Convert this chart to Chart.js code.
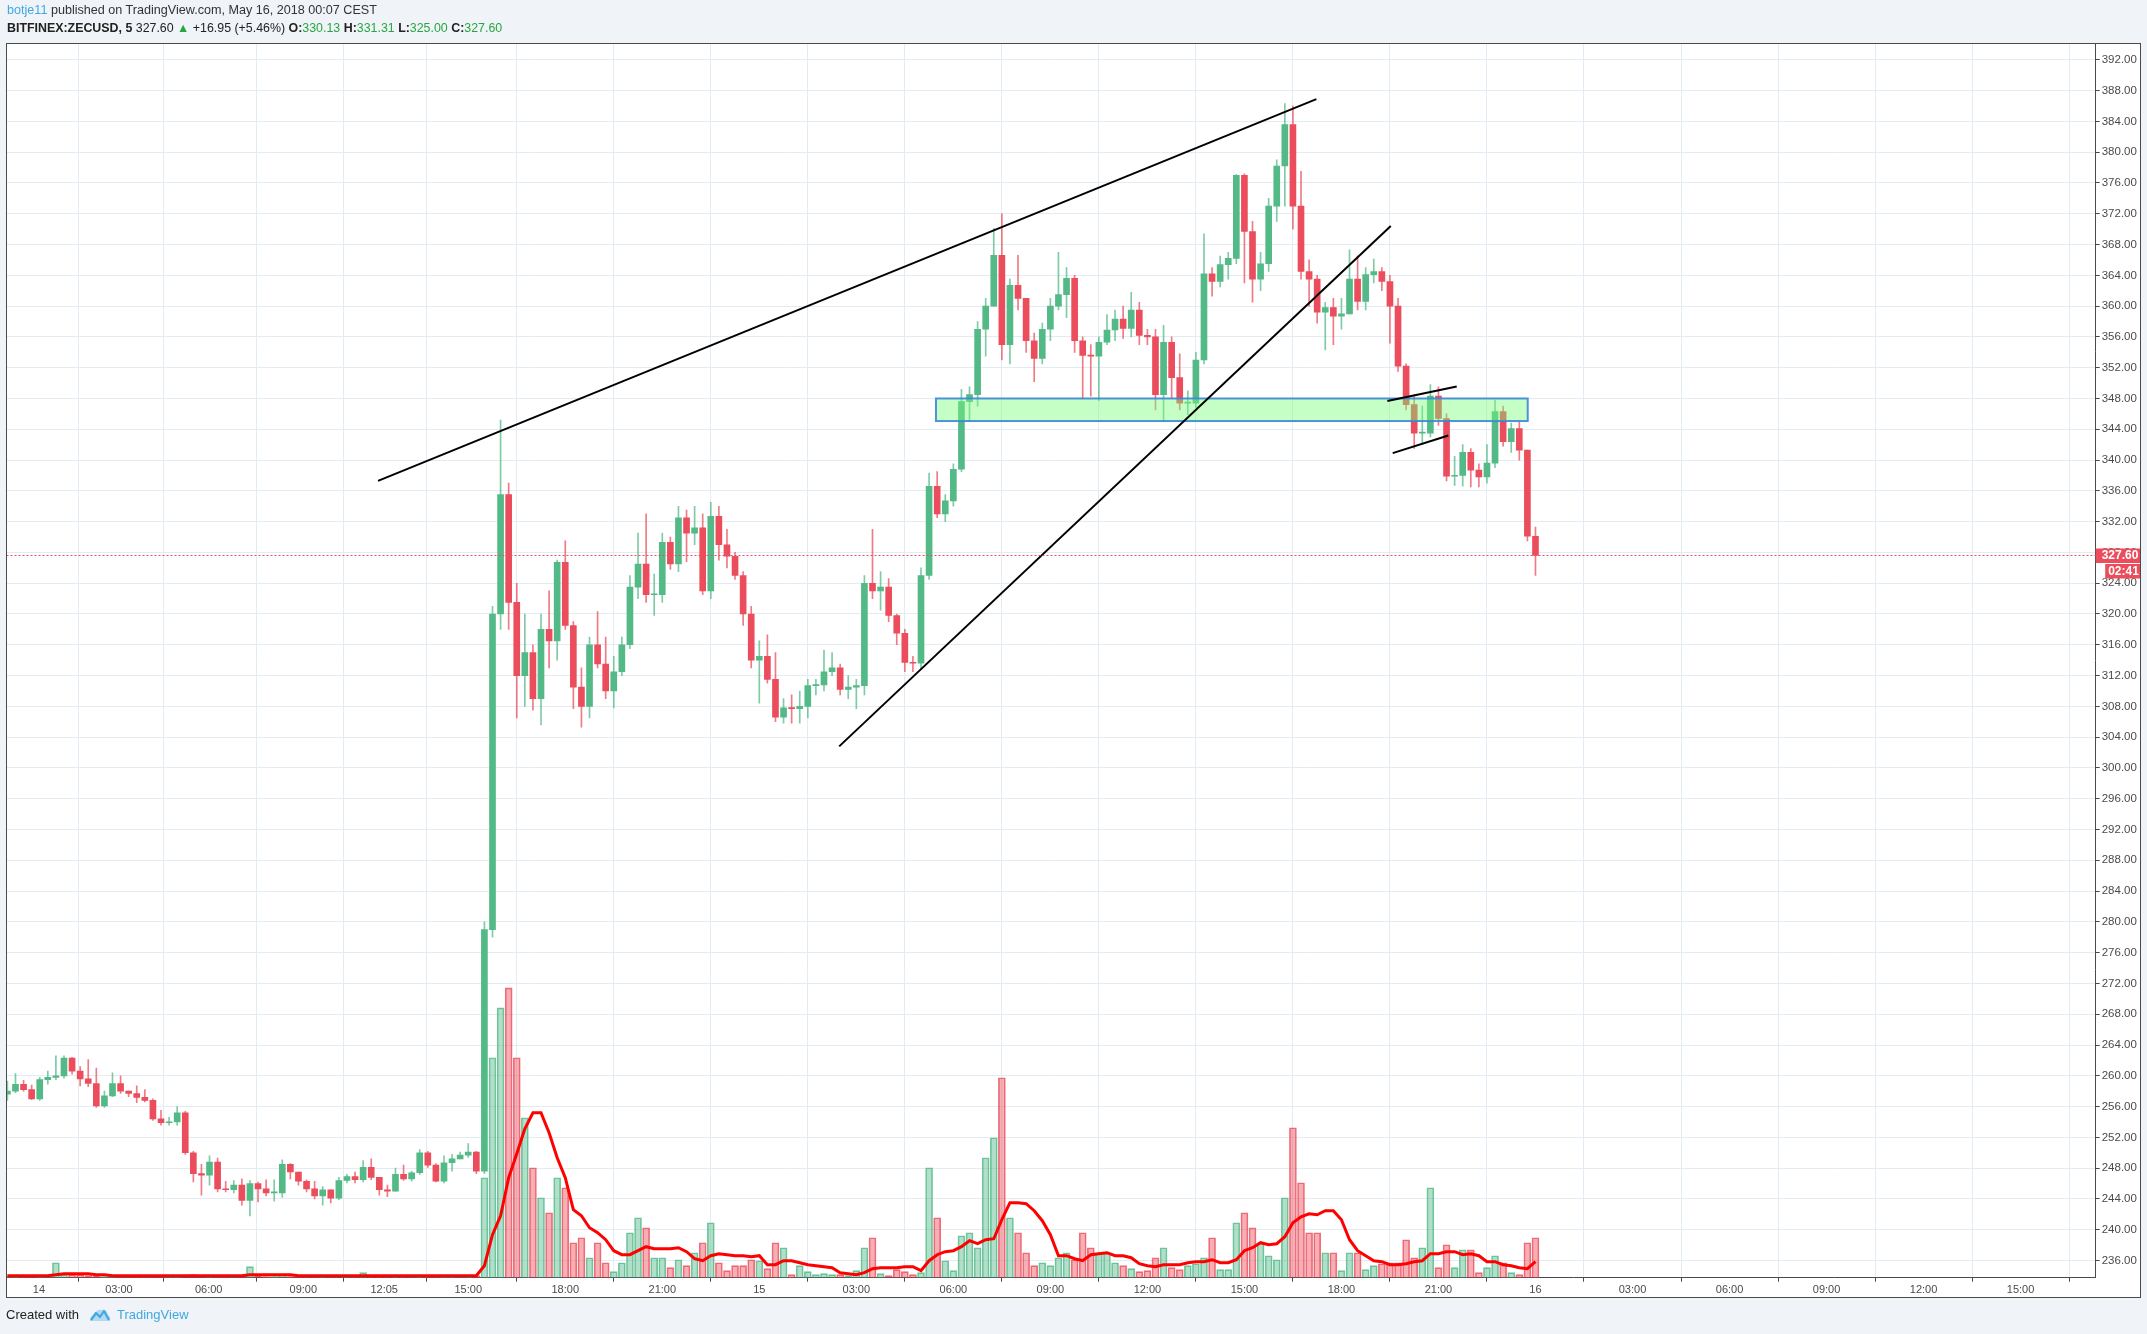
<!DOCTYPE html>
<html>
<head>
<meta charset="utf-8">
<title>BITFINEX:ZECUSD, 5</title>
<script src="https://cdn.jsdelivr.net/npm/chart.js@4.4.0/dist/chart.umd.min.js"></script>
<style>
  html, body { margin: 0; padding: 0; background: #f0f3f7; }
  body { width: 2147px; height: 1334px; position: relative; overflow: hidden; font-family: "Liberation Sans", Arial, sans-serif; }
  #caja { position: absolute; left: 0; top: 0; width: 2147px; height: 1334px; }
  .linea1 { position: absolute; left: 7px; top: 3px; font-size: 12.6px; color: #333; white-space: nowrap; }
  .linea2 { position: absolute; left: 7px; top: 21px; font-size: 12.4px; color: #222; white-space: nowrap; }
  .usuario, .tv { color: #3fa9e0; }
  .verde { color: #26a641; }
  .pie { position: absolute; left: 6px; top: 1307px; font-size: 13px; color: #222; white-space: nowrap; }
  .pie svg { vertical-align: -3px; margin: 0 6px 0 10px; }
</style>
</head>
<body>
<div id="caja"><canvas id="grafica"></canvas></div>
<div class="linea1"><span class="usuario">botje11</span> published on TradingView.com, May 16, 2018 00:07 CEST</div>
<div class="linea2"><b>BITFINEX:ZECUSD, 5</b> 327.60 <span class="verde">&#9650;</span> +16.95 (+5.46%) <b>O:</b><span class="verde">330.13</span> <b>H:</b><span class="verde">331.31</span> <b>L:</b><span class="verde">325.00</span> <b>C:</b><span class="verde">327.60</span></div>
<div class="pie">Created with<svg width="22" height="14" viewBox="0 0 22 14"><path d="M2 12 L7 5 L11 9 L15 3 L20 12" fill="none" stroke="#3fa9e0" stroke-width="2.2" stroke-linejoin="round"/><path d="M1 13 Q1 7 6 7 Q7 1 13 2 Q18 1 19 7 Q22 8 21 13 Z" fill="#3fa9e0" opacity="0.35"/></svg><span class="tv">TradingView</span></div>

<script>
// 15-minute candles, one slot each (slot 93 = May 15 00:00)
const closes = [
  258.0,258.9,258.2,257.0,259.5,259.8,260.0,262.3,260.6,259.6,
  259.0,256.1,257.4,259.0,258.0,257.7,257.2,256.8,254.4,253.9,
  254.0,255.2,250.0,247.3,247.1,248.8,245.3,245.2,245.8,243.8,
  246.0,245.3,244.8,244.8,248.5,247.5,246.3,245.3,244.4,245.2,
  244.1,246.4,246.9,246.5,248.1,246.8,245.2,245.0,247.2,246.6,
  247.4,250.0,248.4,246.3,248.7,249.2,249.7,250.1,247.6,279.0,
  320.0,335.5,321.5,312.0,315.0,309.0,318.0,316.5,326.7,318.5,
  310.5,308.0,316.0,313.5,310.0,312.5,316.0,323.5,326.5,322.5,
  322.5,329.3,326.5,332.5,330.5,331.2,323.0,332.7,329.0,327.5,
  325.0,320.0,314.0,314.5,311.5,306.6,307.8,307.7,308.0,310.7,
  310.8,312.5,313.0,310.2,310.5,310.7,324.0,323.0,323.5,319.8,
  317.5,313.7,313.6,325.0,336.6,333.0,334.7,338.8,347.6,348.5,
  357.0,360.0,366.6,355.0,362.7,361.0,355.5,353.2,357.0,360.0,
  361.5,363.6,355.5,353.6,353.5,355.3,356.9,358.3,357.1,359.5,
  356.2,356.0,348.5,355.3,350.7,347.4,347.4,353.0,364.2,363.2,
  365.4,366.2,377.0,369.7,363.5,365.5,373.0,378.2,383.6,373.0,
  364.5,363.5,359.2,359.8,358.7,359.0,363.5,360.6,364.1,364.5,
  363.2,360.0,352.2,347.2,343.5,343.5,348.3,345.4,337.9,338.0,
  341.0,338.7,337.8,339.6,346.3,342.4,344.1,341.3,330.1,327.6
];
const highs = [
  259.3,260.3,259.4,258.8,259.8,260.6,262.6,262.6,262.4,261.2,
  262.1,261.0,258.0,260.4,260.0,258.0,258.7,258.2,257.0,255.5,
  254.6,256.0,255.4,250.2,248.5,249.6,249.3,246.3,246.4,246.6,
  246.4,246.2,246.5,246.5,249.1,248.6,247.0,246.5,246.3,245.6,
  244.8,246.8,247.2,247.5,249.0,249.2,246.5,245.8,248.0,248.4,
  247.6,250.4,250.2,248.6,249.6,249.8,250.1,251.2,250.2,280.0,
  321.0,345.2,337.0,324.0,320.0,316.0,320.0,323.0,327.0,329.5,
  319.0,313.0,317.0,320.3,317.0,314.5,317.0,325.0,330.5,333.0,
  325.2,330.5,330.0,334.0,333.5,334.0,333.0,334.5,334.0,331.0,
  328.0,325.5,321.0,316.5,317.3,315.0,309.0,309.5,310.0,311.5,
  311.5,315.3,315.0,313.5,312.0,311.5,325.0,331.0,325.5,324.6,
  320.0,318.0,314.5,326.0,338.3,338.5,335.5,339.5,349.2,349.5,
  358.0,361.0,370.1,372.0,363.5,366.6,361.0,356.5,357.8,361.0,
  367.0,365.0,364.0,356.0,355.0,356.0,358.9,359.5,360.0,361.8,
  360.5,357.0,357.0,357.5,356.0,353.8,349.0,354.0,369.4,365.0,
  366.5,367.0,377.1,377.2,371.0,367.0,374.0,379.0,386.3,386.0,
  377.5,366.0,364.0,360.5,361.0,361.0,367.3,366.5,365.0,366.1,
  365.0,364.0,361.0,352.5,348.5,347.0,349.8,349.5,346.0,340.5,
  342.0,341.5,339.5,342.0,347.8,347.0,344.8,345.0,341.0,331.3
];
const lows = [
  256.8,257.8,258.0,256.9,256.8,258.9,259.5,259.7,260.2,258.7,
  258.6,255.9,255.9,257.3,257.7,257.3,256.5,256.6,254.2,253.6,
  253.6,253.6,249.8,246.2,244.5,245.8,244.9,244.9,244.8,243.2,
  241.8,243.6,244.4,243.7,244.2,246.6,245.8,244.9,244.0,243.2,
  243.5,243.9,246.1,246.1,246.2,246.5,244.5,244.3,245.3,246.4,
  246.3,247.2,248.1,246.2,246.1,247.6,249.2,249.4,247.3,247.3,
  278.0,318.0,318.0,306.5,308.0,307.5,305.6,313.0,314.0,318.0,
  307.7,305.3,306.5,313.0,309.0,307.8,312.0,315.5,322.0,321.5,
  319.8,321.5,325.8,325.5,326.8,329.0,322.5,322.0,327.0,326.0,
  324.5,318.5,313.0,308.4,311.0,306.0,305.8,305.8,305.8,306.5,
  309.5,310.0,312.0,309.5,309.0,307.7,309.5,322.0,320.5,319.0,
  316.0,312.5,312.5,312.8,324.5,332.5,332.0,334.0,338.5,345.0,
  347.0,353.5,360.0,353.0,352.5,359.5,354.0,350.2,352.5,355.5,
  359.5,358.5,354.0,348.0,348.3,347.7,355.0,355.5,355.8,356.0,
  355.0,355.0,346.5,345.0,348.0,346.5,345.9,346.8,352.5,361.3,
  362.5,363.5,365.5,363.0,360.5,362.0,364.5,371.0,373.0,370.0,
  363.5,360.0,357.8,354.3,355.0,357.0,361.5,359.5,359.5,363.0,
  362.0,355.2,351.5,346.5,341.5,342.0,343.0,344.5,337.3,336.7,
  336.6,336.5,336.5,337.0,339.0,341.8,341.0,340.0,329.5,325.0
];
const firstOpen = 257.6;

// volume (relative units) and its moving average
const volumes = [
  2,1,1,2,1,2,15,3,3,3,
  2,2,1,1,1,2,1,1,2,1,
  1,1,2,3,2,1,1,1,2,2,
  11,2,1,1,3,1,1,1,1,1,
  1,2,1,1,5,1,1,1,1,1,
  2,1,1,1,1,1,2,1,2,100,
  220,270,290,220,160,110,80,65,100,90,
  35,40,20,35,15,6,15,45,60,50,
  20,20,10,18,12,25,35,55,15,7,
  12,12,18,17,9,35,30,3,12,6,
  3,4,3,3,2,7,30,40,4,2,
  8,6,3,5,110,60,17,7,42,45,
  30,120,140,200,60,45,25,12,15,12,
  20,25,18,45,30,25,25,15,12,9,
  6,7,20,30,10,8,12,14,20,40,
  8,8,55,65,50,35,22,18,80,150,
  95,45,45,25,25,7,25,25,8,12,
  14,15,15,38,20,30,90,10,33,10,
  28,28,5,10,22,15,5,3,35,40
];
const volumeMA = [
  2,2,2,2,2,2,3,4,4,4,
  4,3,3,2,2,2,2,2,2,2,
  2,2,2,2,2,2,2,2,2,2,
  3,3,3,3,3,3,2,2,2,2,
  2,2,2,2,2,2,2,2,2,2,
  2,2,2,2,2,2,2,2,2,12,
  43,62,100,124,149,165,165,145,120,100,
  68,62,50,45,38,27,23,23,27,31,
  29,29,29,30,26,19,17,22,24,23,
  22,22,21,22,13,13,17,17,15,13,
  12,11,10,5,4,3,5,9,10,10,
  10,11,11,7,17,23,26,27,31,37,
  34,38,39,58,75,75,74,67,57,43,
  22,22,19,17,23,24,25,22,22,20,
  14,12,11,13,13,13,15,16,16,18,
  15,15,18,27,30,35,33,34,41,55,
  61,64,63,67,67,58,38,27,22,17,
  16,13,13,14,16,17,24,24,26,26,
  23,24,22,16,16,13,12,10,9,16
];

// time axis: slot position and label
const tickSlots = [3.9,13.8,24.9,36.6,46.6,57,69,81,93,105,117,129,141,153,165,177,189,201,213,225,237,249];
const tickLabels = ['14','03:00','06:00','09:00','12:05','15:00','18:00','21:00','15','03:00','06:00','09:00','12:00','15:00','18:00','21:00','16','03:00','06:00','09:00','12:00','15:00'];
const priceTicks = [236,240,244,248,252,256,260,264,268,272,276,280,284,288,292,296,300,304,308,312,316,320,324,328,332,336,340,344,348,352,356,360,364,368,372,376,380,384,388,392];

const lastPrice = 327.60;
const countdown = '02:41';

// drawings (slot, price)
const trendUpper = [{x: 45.84, y: 337.3}, {x: 161.9, y: 386.9}];
const trendLower = [{x: 102.88, y: 302.8}, {x: 171.1, y: 370.4}];
const flagUpper = [{x: 170.68, y: 347.66}, {x: 179.26, y: 349.57}];
const flagLower = [{x: 171.34, y: 340.9}, {x: 178.22, y: 343.2}];
const zoneSlots = [114.85, 188.04];
const zonePrices = [345.07, 348.0];

const verde = 'rgba(83, 185, 135, 1)';
const rojo = 'rgba(235, 77, 92, 1)';

function inicio() {
  const opens = closes.map((c, i) => i === 0 ? firstOpen : closes[i - 1]);
  const sube = closes.map((c, i) => c >= opens[i]);

  const cuerpos = closes.map((c, i) => ({x: i, y: [opens[i], c]}));
  const mechas = closes.map((c, i) => ({
    x: i,
    y: [Math.min(lows[i], opens[i], c), Math.max(highs[i], opens[i], c)]
  }));
  const vol = volumes.map((v, i) => ({x: i, y: v}));
  const media = volumeMA.map((v, i) => ({x: i, y: v}));

  const colCuerpo = sube.map(s => s ? verde : rojo);
  const colMecha = sube.map(s => s ? 'rgba(83,185,135,0.75)' : 'rgba(235,77,92,0.75)');
  const colVol = sube.map(s => s ? 'rgba(83,185,135,0.45)' : 'rgba(235,77,92,0.45)');
  const bordeVol = sube.map(s => s ? 'rgba(83,185,135,0.8)' : 'rgba(235,77,92,0.8)');

  const panel = {
    id: 'panel',
    beforeDraw(chart) {
      const a = chart.chartArea, ctx = chart.ctx;
      ctx.save();
      ctx.fillStyle = '#ffffff';
      ctx.fillRect(a.left, a.top, chart.width - 7 - a.left, a.bottom + 19.8 - a.top);
      ctx.restore();
    },
    afterDatasetDraw(chart, args) {
      // zone drawn right after the candle bodies, under the trend lines
      if (chart.data.datasets[args.index].label !== 'Bodies') return;
      const x = chart.scales.x, y = chart.scales.y, ctx = chart.ctx;
      const x0 = x.getPixelForValue(zoneSlots[0]), x1 = x.getPixelForValue(zoneSlots[1]);
      const y0 = y.getPixelForValue(zonePrices[1]), y1 = y.getPixelForValue(zonePrices[0]);
      ctx.save();
      ctx.fillStyle = 'rgba(120, 255, 120, 0.42)';
      ctx.fillRect(x0, y0, x1 - x0, y1 - y0);
      ctx.strokeStyle = 'rgba(60, 135, 215, 0.9)';
      ctx.lineWidth = 2;
      ctx.strokeRect(x0, y0, x1 - x0, y1 - y0);
      ctx.restore();
    },
    afterDraw(chart) {
      const a = chart.chartArea, ctx = chart.ctx, y = chart.scales.y;
      const py = y.getPixelForValue(lastPrice);
      ctx.save();
      // last price dotted line
      ctx.strokeStyle = rojo;
      ctx.lineWidth = 1;
      ctx.setLineDash([2, 2]);
      ctx.beginPath();
      ctx.moveTo(a.left, Math.round(py) + 0.5);
      ctx.lineTo(a.right, Math.round(py) + 0.5);
      ctx.stroke();
      ctx.setLineDash([]);
      // outer frame
      ctx.strokeStyle = '#4a4a4a';
      ctx.strokeRect(Math.floor(a.left) + 0.5, Math.floor(a.top) + 0.5, chart.width - 7 - Math.floor(a.left), Math.round(a.bottom + 19.8 - a.top));
      // price label and countdown
      ctx.fillStyle = rojo;
      ctx.fillRect(a.right, py - 7, chart.width - 7 - a.right, 14.5);
      ctx.fillRect(a.right + 9.5, py + 8.5, chart.width - 7 - a.right - 9.5, 14.5);
      ctx.fillStyle = '#ffffff';
      ctx.font = 'bold 12px "Liberation Sans", Arial, sans-serif';
      ctx.textAlign = 'left';
      ctx.textBaseline = 'middle';
      ctx.fillText(lastPrice.toFixed(2), a.right + 6, py + 0.5);
      ctx.fillText(countdown, a.right + 12.5, py + 16);
      ctx.restore();
    }
  };

  const ctx = document.getElementById('grafica').getContext('2d');

  const data = {
    datasets: [{
      label: 'Bodies',
      type: 'bar',
      data: cuerpos,
      backgroundColor: colCuerpo,
      barThickness: 6,
      minBarLength: 1,
      grouped: false,
      yAxisID: 'y',
      order: 1
    }, {
      label: 'Wicks',
      type: 'bar',
      data: mechas,
      backgroundColor: colMecha,
      barThickness: 1,
      grouped: false,
      yAxisID: 'y',
      order: 2
    }, {
      label: 'Volume MA',
      type: 'line',
      data: media,
      borderColor: '#ff0000',
      borderWidth: 3,
      pointRadius: 0,
      tension: 0,
      yAxisID: 'yv',
      order: 3
    }, {
      label: 'Volume',
      type: 'bar',
      data: vol,
      backgroundColor: colVol,
      borderColor: bordeVol,
      borderWidth: 1,
      barThickness: 7,
      grouped: false,
      yAxisID: 'yv',
      order: 4
    }, {
      label: 'Trend upper',
      type: 'line',
      data: trendUpper,
      borderColor: '#000000',
      borderWidth: 2,
      pointRadius: 0,
      yAxisID: 'y',
      order: 0
    }, {
      label: 'Trend lower',
      type: 'line',
      data: trendLower,
      borderColor: '#000000',
      borderWidth: 2,
      pointRadius: 0,
      yAxisID: 'y',
      order: 0
    }, {
      label: 'Flag upper',
      type: 'line',
      data: flagUpper,
      borderColor: '#000000',
      borderWidth: 2,
      pointRadius: 0,
      yAxisID: 'y',
      order: 0
    }, {
      label: 'Flag lower',
      type: 'line',
      data: flagLower,
      borderColor: '#000000',
      borderWidth: 2,
      pointRadius: 0,
      yAxisID: 'y',
      order: 0
    }]
  };

  const fuente = {family: '"Liberation Sans", Arial, sans-serif', size: 11};

  const config = {
    type: 'bar',
    data: data,
    options: {
      responsive: true,
      maintainAspectRatio: false,
      animation: false,
      devicePixelRatio: 1,
      events: [],
      layout: {padding: {left: 6.5, top: 43.5, right: 7, bottom: 36.5}},
      plugins: {legend: {display: false}, tooltip: {enabled: false}},
      scales: {
        x: {
          type: 'linear',
          position: 'bottom',
          min: -0.11,
          max: 258.29,
          offset: false,
          afterBuildTicks: s => { s.ticks = tickSlots.map(v => ({value: v})); },
          afterFit: s => { s.height = 19.8; },
          ticks: {
            autoSkip: false, maxRotation: 0, padding: 2,
            color: '#4a4a4a', font: fuente,
            callback: (v, i) => tickLabels[i]
          },
          grid: {color: '#e3ecf3', tickColor: '#4a4a4a', tickLength: 4},
          border: {display: true, color: '#4a4a4a'}
        },
        y: {
          type: 'linear',
          position: 'right',
          min: 233.77,
          max: 394.12,
          afterBuildTicks: s => { s.ticks = priceTicks.map(v => ({value: v})); },
          afterFit: s => { s.width = 44.3; },
          ticks: {
            padding: 2, color: '#4a4a4a',
            font: {family: '"Liberation Sans", Arial, sans-serif', size: 11.5},
            callback: v => v.toFixed(2)
          },
          grid: {color: '#e3ecf3', tickColor: '#4a4a4a', tickLength: 4},
          border: {display: true, color: '#4a4a4a'}
        },
        yv: {
          type: 'linear',
          display: false,
          min: 0,
          max: 1234.7
        }
      }
    },
    plugins: [panel]
  };

  const myChart = new Chart(ctx, config);
}

inicio();
</script>
</body>
</html>
